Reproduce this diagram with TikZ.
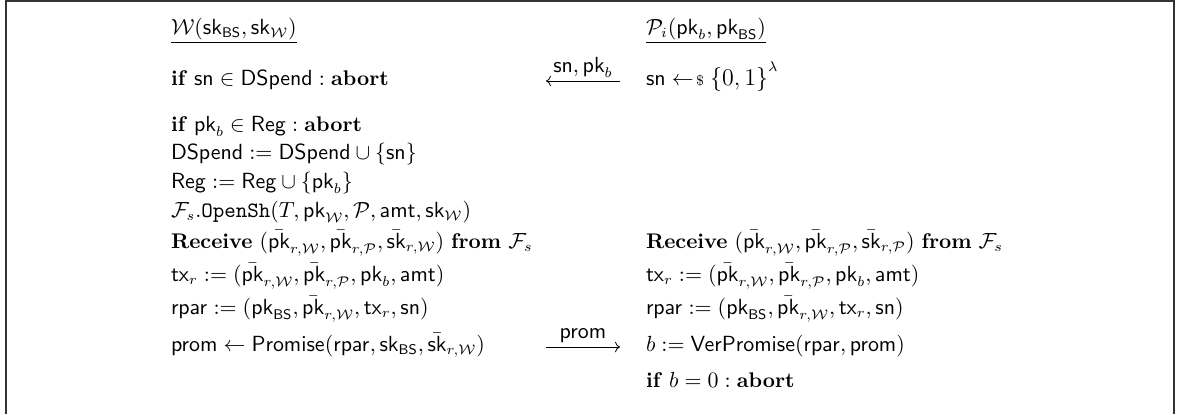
\documentclass[tikz,border=0pt]{standalone}
\usepackage{amsmath}
\usetikzlibrary{arrows.meta}
\newcommand{\kw}[1]{\textbf{#1}}
\newcommand{\sfm}[1]{\mathsf{#1}}
\tikzset{
  txt/.style={anchor=base west, inner sep=0pt, outer sep=0pt},
  lbl/.style={anchor=base, inner sep=0pt, outer sep=0pt},
  msgarrow/.style={line width=0.4pt, -{Computer Modern Rightarrow}},
  frameline/.style={line width=0.6pt, draw=black!80},
}
\begin{document}
\begin{tikzpicture}[x=0.5pt, y=-0.5pt, every node/.append style={font=\fontsize{10.6}{12.7}\selectfont}]
\useasboundingbox (0,0) rectangle (1177,414);
% frame
\coordinate (fa) at (6,414);
\coordinate (fb) at (6,1);
\coordinate (fc) at (1174,1);
\coordinate (fd) at (1174,414);
\draw[frameline] (fa) -- (fb) -- (fc) -- (fd);

% headers
\node[txt] (hw) at (171,34) {\underline{$\mathcal{W}(\sfm{sk}_{\sfm{BS}},\sfm{sk}_{\mathcal{W}})$}};
\node[txt] (hp) at (646,34) {\underline{$\mathcal{P}_i(\sfm{pk}_b,\sfm{pk}_{\sfm{BS}})$}};

% left column
\node[txt] (w1) at (171,85) {$\text{\kw{if}}\ \sfm{sn}\in\sfm{DSpend}:\text{\kw{abort}}$};
\node[txt] (w2) at (171,131) {$\text{\kw{if}}\ \sfm{pk}_b\in\sfm{Reg}:\text{\kw{abort}}$};
\node[txt] (w3) at (171,159) {$\sfm{DSpend}\mathrel{:=}\sfm{DSpend}\cup\{\sfm{sn}\}$};
\node[txt] (w4) at (171,188) {$\sfm{Reg}\mathrel{:=}\sfm{Reg}\cup\{\sfm{pk}_b\}$};
\node[txt] (w5) at (171,217) {$\mathcal{F}_s.\mathtt{OpenSh}(T,\sfm{pk}_{\mathcal{W}},\mathcal{P},\sfm{amt},\sfm{sk}_{\mathcal{W}})$};
\node[txt] (w6) at (171,248) {$\text{\kw{Receive}}\ (\bar{\sfm{pk}}_{r,\mathcal{W}},\bar{\sfm{pk}}_{r,\mathcal{P}},\bar{\sfm{sk}}_{r,\mathcal{W}})\ \text{\kw{from}}\ \mathcal{F}_s$};
\node[txt] (w7) at (171,281) {$\sfm{tx}_r\mathrel{:=}(\bar{\sfm{pk}}_{r,\mathcal{W}},\bar{\sfm{pk}}_{r,\mathcal{P}},\sfm{pk}_b,\sfm{amt})$};
\node[txt] (w8) at (171,314) {$\sfm{rpar}\mathrel{:=}(\sfm{pk}_{\sfm{BS}},\bar{\sfm{pk}}_{r,\mathcal{W}},\sfm{tx}_r,\sfm{sn})$};
\node[txt] (w9) at (171,351) {$\sfm{prom}\leftarrow\sfm{Promise}(\sfm{rpar},\sfm{sk}_{\sfm{BS}},\bar{\sfm{sk}}_{r,\mathcal{W}})$};

% right column
\node[txt] (p1) at (646,85) {$\sfm{sn}\mathrel{\leftarrow\!{\scriptstyle\$}}\mbox{\large$\{0,1\}$}^{\lambda}$};
\node[txt] (p6) at (646,248) {$\text{\kw{Receive}}\ (\bar{\sfm{pk}}_{r,\mathcal{W}},\bar{\sfm{pk}}_{r,\mathcal{P}},\bar{\sfm{sk}}_{r,\mathcal{P}})\ \text{\kw{from}}\ \mathcal{F}_s$};
\node[txt] (p7) at (646,281) {$\sfm{tx}_r\mathrel{:=}(\bar{\sfm{pk}}_{r,\mathcal{W}},\bar{\sfm{pk}}_{r,\mathcal{P}},\sfm{pk}_b,\sfm{amt})$};
\node[txt] (p8) at (646,314) {$\sfm{rpar}\mathrel{:=}(\sfm{pk}_{\sfm{BS}},\bar{\sfm{pk}}_{r,\mathcal{W}},\sfm{tx}_r,\sfm{sn})$};
\node[txt] (p9) at (646,351) {$b\mathrel{:=}\sfm{VerPromise}(\sfm{rpar},\sfm{prom})$};
\node[txt] (p10) at (646,387) {$\text{\kw{if}}\ b=0:\text{\kw{abort}}$};

% messages
\coordinate (m1s) at (620,81);
\coordinate (m1e) at (546,81);
\draw[msgarrow] (m1s) -- (m1e);
\node[lbl] (m1l) at (583,72) {$\sfm{sn},\sfm{pk}_b$};

\coordinate (m2s) at (546,347);
\coordinate (m2e) at (620,347);
\draw[msgarrow] (m2s) -- (m2e);
\node[lbl] (m2l) at (583,338) {$\sfm{prom}$};
\end{tikzpicture}
\end{document}
